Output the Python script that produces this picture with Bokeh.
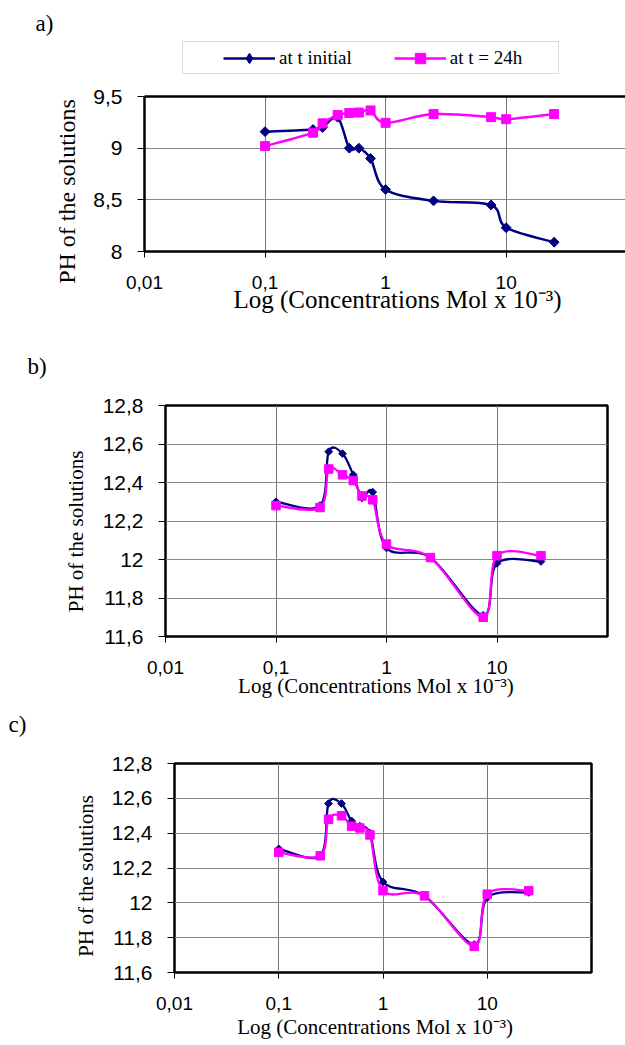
import math
from bokeh.plotting import figure
from bokeh.models import (FixedTicker, Label, Legend, LegendItem, BoxAnnotation,
                          LogAxis, Range1d)
from bokeh.layouts import column, row
from bokeh.embed import file_html
from bokeh.resources import INLINE

# ---------------- data ----------------
conc = [0.1, 0.25, 0.3, 0.4, 0.5, 0.6, 0.75, 1, 2.5, 7.5, 10, 25]

ph_a_initial = [9.16, 9.18, 9.20, 9.30, 9.00, 9.00, 8.90, 8.60, 8.49, 8.45, 8.23, 8.09]
ph_a_24h = [9.02, 9.15, 9.24, 9.32, 9.34, 9.345, 9.365, 9.245, 9.33, 9.30, 9.28, 9.33]

ph_b_initial = [12.30, 12.28, 12.56, 12.55, 12.44, 12.32, 12.35, 12.06, 12.01, 11.71, 11.98, 11.99]
ph_b_24h = [12.28, 12.27, 12.47, 12.44, 12.41, 12.33, 12.31, 12.08, 12.01, 11.70, 12.02, 12.02]

ph_c_initial = [12.31, 12.27, 12.57, 12.57, 12.47, 12.44, 12.40, 12.12, 12.04, 11.76, 12.03, 12.06]
ph_c_24h = [12.29, 12.27, 12.48, 12.50, 12.44, 12.43, 12.39, 12.07, 12.04, 11.75, 12.05, 12.07]

x_ticks = [0.01, 0.1, 1, 10]
x_tick_labels = ["0,01", "0,1", "1", "10"]
a_y_ticks = [8, 8.5, 9, 9.5]
a_y_tick_labels = ["8", "8,5", "9", "9,5"]
bc_y_ticks = [11.6, 11.8, 12.0, 12.2, 12.4, 12.6, 12.8]
bc_y_tick_labels = ["11,6", "11,8", "12", "12,2", "12,4", "12,6", "12,8"]

series_names = ["at t initial", "at t = 24h"]
panel_letters = ["a)", "b)", "c)"]
y_title = "PH of the solutions"
x_title = "Log (Concentrations Mol x 10\u207b\u00b3)"

# ---------------- styles / layout ----------------
NAVY = "#000080"
MAGENTA = "#FF00FF"
SERIF = "Liberation Serif"
SANS = "Liberation Sans"
W = 625
NB = "\u00a0"
SIDE_A = 90

# page geometry (page pixels, origin top-left) of each plot canvas and frame
GEOM = {
    "a": dict(left=SIDE_A, top=80, height=260, L=143, R=625, T=96, B=251,
              x1=10 ** (-2 + 482 / 120.8), y0=8.0, y1=9.5),
    "b": dict(left=0, top=390, height=310, L=165, R=607, T=405, B=636,
              x1=100.0, y0=11.6, y1=12.8),
    "c": dict(left=0, top=745, height=300, L=174, R=591, T=763, B=972,
              x1=100.0, y0=11.6, y1=12.8),
}


def smooth_segments(xs, ys):
    lx = [math.log10(v) for v in xs]
    n = len(xs)
    seg = dict(x0=[], y0=[], x1=[], y1=[], cx0=[], cy0=[], cx1=[], cy1=[])
    for i in range(n - 1):
        i0 = max(i - 1, 0)
        i3 = min(i + 2, n - 1)
        c0x = lx[i] + (lx[i + 1] - lx[i0]) / 6
        c0y = ys[i] + (ys[i + 1] - ys[i0]) / 6
        c1x = lx[i + 1] - (lx[i3] - lx[i]) / 6
        c1y = ys[i + 1] - (ys[i3] - ys[i]) / 6
        seg["x0"].append(xs[i]); seg["y0"].append(ys[i])
        seg["x1"].append(xs[i + 1]); seg["y1"].append(ys[i + 1])
        seg["cx0"].append(10 ** c0x); seg["cy0"].append(c0y)
        seg["cx1"].append(10 ** c1x); seg["cy1"].append(c1y)
    return seg


def make_blank(x0, width, height):
    """A figure without axes whose data coordinates are page pixels."""
    h = figure(width=width, height=height, x_range=Range1d(x0, x0 + width),
               y_range=Range1d(height, 0), x_axis_location=None, y_axis_location=None,
               output_backend="svg", toolbar_location=None, min_border=0,
               frame_align=False)
    h.outline_line_color = None
    h.background_fill_color = "white"
    h.border_fill_color = "white"
    for gr in h.grid:
        gr.visible = False
    return h


def blank_text(h, x, y, text, size, align="left", baseline="alphabetic", angle=0.0):
    h.add_layout(Label(x=x, y=y, text=text, text_font=SERIF,
                       text_font_size=f"{size}px", text_align=align,
                       text_baseline=baseline, angle=angle, text_color="black"))


def make_fig(key, y_ticks, y_labels, yt, xt_lead, xt_trail, xt_size, xt_standoff):
    g = GEOM[key]
    width = W - g["left"]
    p = figure(width=width, height=g["height"], x_axis_type="log",
               x_range=Range1d(0.01, g["x1"]), y_range=Range1d(g["y0"], g["y1"]),
               output_backend="svg", toolbar_location=None, frame_align=False,
               min_border_left=g["L"] - g["left"], min_border_right=W - g["R"],
               min_border_top=g["T"] - g["top"],
               min_border_bottom=g["top"] + g["height"] - g["B"])
    p.background_fill_color = "white"
    p.border_fill_color = "white"

    xtk = FixedTicker(ticks=x_ticks)
    ytk = FixedTicker(ticks=y_ticks)
    xa = p.below[0]
    ya = p.left[0]
    xa.ticker = xtk
    xa.major_label_overrides = dict(zip(x_ticks, x_tick_labels))
    xa.major_label_text_font = SANS
    xa.major_label_text_font_size = "19px"
    xa.major_label_text_color = "black"
    xa.major_label_standoff = 18
    xa.major_tick_out = 6
    xa.major_tick_in = 0
    xa.major_tick_line_color = "black"
    xa.minor_tick_line_color = None
    xa.axis_label = NB * xt_lead + x_title + NB * xt_trail
    xa.axis_label_text_font = SERIF
    xa.axis_label_text_font_size = f"{xt_size}px"
    xa.axis_label_text_font_style = "normal"
    xa.axis_label_text_color = "black"
    xa.axis_label_standoff = xt_standoff

    ya.ticker = ytk
    ya.major_label_overrides = dict(zip(y_ticks, y_labels))
    ya.major_label_text_font = SANS
    ya.major_label_text_font_size = "21px"
    ya.major_label_text_color = "black"
    ya.major_label_standoff = 15
    ya.major_tick_out = 7
    ya.major_tick_in = 0
    ya.major_tick_line_color = "black"
    ya.minor_tick_line_color = None
    if yt is not None:
        shift, size, standoff = yt
        ya.axis_label = y_title + NB * shift
        ya.axis_label_text_font = SERIF
        ya.axis_label_text_font_size = f"{size}px"
        ya.axis_label_text_font_style = "normal"
        ya.axis_label_text_color = "black"
        ya.axis_label_standoff = standoff

    p.xgrid.ticker = xtk
    p.ygrid.ticker = ytk
    p.xgrid.grid_line_color = "#777777"
    p.ygrid.grid_line_color = "#888888"
    return p


def draw_series(p, ys, color, size, lw, diamond=False):
    seg = smooth_segments(conc, ys)
    p.bezier(x0=seg["x0"], y0=seg["y0"], x1=seg["x1"], y1=seg["y1"],
             cx0=seg["cx0"], cy0=seg["cy0"], cx1=seg["cx1"], cy1=seg["cy1"],
             line_color=color, line_width=lw)
    p.scatter(conc, ys, marker="square", size=size,
              angle=(math.pi / 4 if diamond else 0.0),
              fill_color=color, line_color=color)


# ---------------- panel a: side strip (letter + y title) ----------------
sa = make_blank(0, SIDE_A, 340)
blank_text(sa, 35, 23, panel_letters[0], 23)
blank_text(sa, 66, 191, y_title, 24, align="center", baseline="middle",
           angle=math.pi / 2)

# ---------------- panel a: header with legend ----------------
ha = make_blank(SIDE_A, W - SIDE_A, 80)
ha.add_layout(BoxAnnotation(left=182, right=558, top=41, bottom=73,
                            fill_alpha=0, line_color="#808080", line_width=1))
l0 = ha.line(conc, ph_a_initial, line_color=NAVY, line_width=2.5, visible=False)
m0 = ha.scatter(conc, ph_a_initial, marker="diamond", size=11,
                fill_color=NAVY, line_color=NAVY, visible=False)
l1 = ha.line(conc, ph_a_24h, line_color=MAGENTA, line_width=2.5, visible=False)
m1 = ha.scatter(conc, ph_a_24h, marker="square", size=10,
                fill_color=MAGENTA, line_color=MAGENTA, visible=False)
legend = Legend(items=[LegendItem(label=series_names[0], renderers=[l0, m0]),
                       LegendItem(label=series_names[1], renderers=[l1, m1])],
                orientation="horizontal", location=(223 - SIDE_A, 80 - 70.5),
                padding=0, margin=0, spacing=42, glyph_width=52, glyph_height=26,
                label_standoff=4, label_height=26, label_text_font=SERIF,
                label_text_font_size="19px", label_text_color="black",
                border_line_color=None, background_fill_alpha=0)
ha.add_layout(legend)

# ---------------- panel a: plot ----------------
pa = make_fig("a", a_y_ticks, a_y_tick_labels, None, 4, 0, 25, -6)
pa.outline_line_color = None
pa.below[0].axis_line_color = "black"
pa.below[0].axis_line_width = 2.5
pa.left[0].axis_line_color = "black"
pa.left[0].axis_line_width = 2.5
top_ax = LogAxis(ticker=FixedTicker(ticks=[]), axis_line_color="black",
                 axis_line_width=2.5, major_tick_out=0, major_tick_in=0,
                 minor_tick_out=0, minor_tick_in=0, major_label_standoff=0,
                 major_label_text_font_size="0px")
pa.add_layout(top_ax, "above")
draw_series(pa, ph_a_initial, NAVY, 7, 2.5, diamond=True)
draw_series(pa, ph_a_24h, MAGENTA, 9, 2.5)

# ---------------- panel b ----------------
hb = make_blank(0, W, 50)
blank_text(hb, 27, 26, panel_letters[1], 23)
pb = make_fig("b", bc_y_ticks, bc_y_tick_labels, (4, 21, 12), 0, 4, 21, -3)
pb.outline_line_color = "black"
pb.outline_line_width = 2.5
pb.below[0].axis_line_color = None
pb.left[0].axis_line_color = None
draw_series(pb, ph_b_initial, NAVY, 5.5, 2.3, diamond=True)
draw_series(pb, ph_b_24h, MAGENTA, 8.5, 2.3)

# ---------------- panel c ----------------
hc = make_blank(0, W, 45)
blank_text(hc, 8, 24, panel_letters[2], 23)
pc = make_fig("c", bc_y_ticks, bc_y_tick_labels, (3, 21, 11), 0, 3, 21, 2)
pc.outline_line_color = "black"
pc.outline_line_width = 2.5
pc.below[0].axis_line_color = None
pc.left[0].axis_line_color = None
draw_series(pc, ph_c_initial, NAVY, 5.5, 2.3, diamond=True)
draw_series(pc, ph_c_24h, MAGENTA, 8.5, 2.3)

layout = column(row(sa, column(ha, pa, spacing=0), spacing=0),
                hb, pb, hc, pc, spacing=0)
open("out.html", "w").write(file_html(layout, INLINE))
